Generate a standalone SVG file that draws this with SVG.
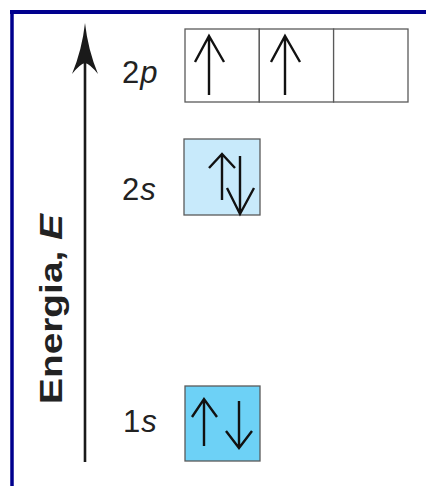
<svg xmlns="http://www.w3.org/2000/svg" width="426" height="486" viewBox="0 0 426 486">
  <style>
    .box { stroke: #5a5a5a; stroke-width: 1.3; }
    .spin { fill: none; stroke: #111; stroke-width: 2.4; stroke-linecap: butt; stroke-linejoin: miter; }
    .lbl { font-family: "Liberation Sans", Arial, sans-serif; font-size: 31px; fill: #222; letter-spacing: 1px; }
    .it { font-style: italic; }
    .axis-lbl { font-family: "Liberation Sans", Arial, sans-serif; font-size: 31px; font-weight: bold; fill: #222; }
  </style>

  <rect width="426" height="486" fill="#ffffff"/>

  <!-- frame: top and left rules -->
  <line x1="10" y1="12" x2="426" y2="12" stroke="#00008e" stroke-width="4"/>
  <line x1="12" y1="10" x2="12" y2="486" stroke="#00008e" stroke-width="3.5"/>

  <!-- energy axis -->
  <g id="connectors">
    <line x1="85" y1="462" x2="85" y2="62" stroke="#1a1a1a" stroke-width="2.6"/>
    <path d="M85,23 Q88,50 98,74 Q90,64 85,63 Q80,64 72,74 Q82,50 85,23 Z" fill="#1a1a1a"/>
  </g>

  <g id="axis-label">
    <text class="axis-lbl" transform="translate(62,404) rotate(-90)" textLength="190" lengthAdjust="spacingAndGlyphs">Energia, <tspan class="it">E</tspan></text>
  </g>

  <!-- 2p orbitals -->
  <g id="orbital-2p">
    <text class="lbl" x="122" y="83">2<tspan class="it">p</tspan></text>
    <rect class="box" x="185" y="29" width="74.3" height="73" fill="#ffffff"/>
    <rect class="box" x="259.3" y="29" width="74.3" height="73" fill="#ffffff"/>
    <rect class="box" x="333.6" y="29" width="74.4" height="73" fill="#ffffff"/>
    <path class="spin" d="M209,95 V36 M195,62 L209,36 L224,62"/>
    <path class="spin" d="M285,95 V36 M271,62 L285,36 L300,62"/>
  </g>

  <!-- 2s orbital -->
  <g id="orbital-2s">
    <text class="lbl" x="122" y="200">2<tspan class="it">s</tspan></text>
    <rect class="box" x="184" y="139" width="76" height="76" fill="#c8eafb"/>
    <path class="spin" d="M222,200 V154 M209,168 L222,154 L235,168" stroke="#333" stroke-width="2.2"/>
    <path class="spin" d="M240,156 V214 M227,188 L240,214 L254,188"/>
  </g>

  <!-- 1s orbital -->
  <g id="orbital-1s">
    <text class="lbl" x="123" y="432">1<tspan class="it">s</tspan></text>
    <rect class="box" x="185" y="386" width="75" height="75" fill="#6dd1f6"/>
    <path class="spin" d="M204,446 V399 M192,417 L204,399 L217,417"/>
    <path class="spin" d="M239,401 V448 M226,431 L239,448 L252,431"/>
  </g>
</svg>
